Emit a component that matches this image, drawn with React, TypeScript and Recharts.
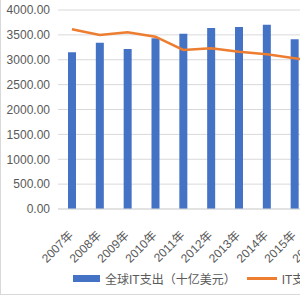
import { ComposedChart, Bar, Line, XAxis, YAxis, CartesianGrid, Legend } from "recharts";

const years = ["2007年", "2008年", "2009年", "2010年", "2011年", "2012年", "2013年", "2014年", "2015年", "2016年", "2017年", "2018年"];
const spending = [3150, 3343, 3216, 3430, 3524, 3638, 3658, 3704, 3410, 3400, 3500, 3600];
const itLine = [3612, 3497, 3552, 3464, 3196, 3230, 3162, 3110, 3029, 2960, 2920, 2900];
const yTicks = [0, 500, 1000, 1500, 2000, 2500, 3000, 3500, 4000];

const data = years.map((y, i) => ({ year: y, spend: spending[i], it: itLine[i] }));

const font = '"Liberation Sans", "Noto Sans CJK SC", sans-serif';
const grey = "#595959";

function YearTick({ x, y, payload }: any) {
  return (
    <g transform={`translate(${x},${y})`}>
      <text x={0} y={0} dy={15} dx={-12} textAnchor="end" fill={grey} fontSize={12} fontFamily={font} transform="rotate(-45)">
        {payload.value}
      </text>
    </g>
  );
}

function LegendBox() {
  return (
    <div style={{ display: "flex", alignItems: "center", height: 20, paddingLeft: 73, fontSize: 12, color: grey, fontFamily: font, whiteSpace: "nowrap" }}>
      <span style={{ display: "inline-block", width: 27, height: 7, background: "#4472c4", marginRight: 5 }} />
      <span>全球IT支出（十亿美元）</span>
      <span style={{ display: "inline-block", width: 30, height: 3, background: "#ed7d31", marginLeft: 11, marginRight: 5 }} />
      <span>IT支出占比</span>
    </div>
  );
}

export default function App() {
  return (
    <div style={{ position: "fixed", left: 0, top: 0, width: 300, height: 300, overflow: "hidden", background: "#fff" }}>
      <div style={{ position: "absolute", left: 0, top: 0, width: 402, height: 295, borderLeft: "1px solid #d9d9d9", borderBottom: "1px solid #d9d9d9", boxSizing: "border-box" }} />
      <ComposedChart width={402} height={296} data={data} margin={{ top: 10, right: 10, bottom: 8, left: 0 }} barSize={8}>
        <CartesianGrid vertical={false} stroke="#d9d9d9" />
        <XAxis dataKey="year" height={59} interval={0} tick={<YearTick />} tickLine={false} axisLine={{ stroke: "#d9d9d9" }} />
        <YAxis width={58} domain={[0, 4000]} ticks={yTicks} tickFormatter={(v: number) => v.toFixed(2)} tick={{ fill: grey, fontSize: 12, fontFamily: font }} tickLine={false} axisLine={false} />
        <Legend verticalAlign="bottom" content={<LegendBox />} />
        <Bar dataKey="spend" fill="#4472c4" isAnimationActive={false} />
        <Line dataKey="it" stroke="#ed7d31" strokeWidth={2.5} dot={false} isAnimationActive={false} />
      </ComposedChart>
    </div>
  );
}
